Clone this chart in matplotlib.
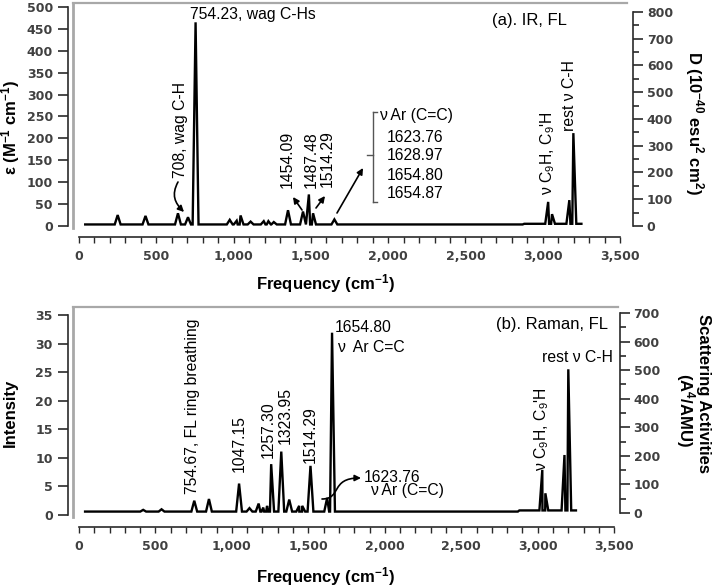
import numpy as np
import matplotlib
matplotlib.use("Agg")
import matplotlib.pyplot as plt
from matplotlib.patches import FancyArrowPatch
from matplotlib.path import Path
from matplotlib.lines import Line2D
from matplotlib.ticker import MultipleLocator

plt.rcParams['font.family'] = ['Liberation Sans', 'DejaVu Sans']
plt.rcParams['mathtext.fontset'] = 'custom'
plt.rcParams['mathtext.rm'] = 'Liberation Sans'
plt.rcParams['mathtext.it'] = 'Liberation Sans:italic'
plt.rcParams['mathtext.bf'] = 'Liberation Sans:bold'

# IR spectrum (top): band positions (cm-1) and epsilon (M-1 cm-1)
ir_freq = [250, 430, 640, 705, 754, 975, 1020, 1045, 1110, 1195, 1225, 1260,
           1352, 1449, 1487, 1514, 1652, 3035, 3060, 3172, 3198]
ir_eps = [25, 23, 29, 20, 465, 14, 12, 24, 10, 11, 11, 9,
          36, 33, 72, 29, 15, 55, 27, 59, 212]
ir_base = [3.5, 5.0]          # baseline below / above ~2875 cm-1

# Raman spectrum (bottom): band positions (cm-1) and intensity
raman_freq = [420, 540, 754, 850, 1047, 1115, 1175, 1205, 1230, 1257, 1323,
              1375, 1440, 1460, 1514, 1623, 1655, 3030, 3050, 3175, 3200]
raman_int = [0.9, 1.0, 2.5, 2.8, 5.5, 1.2, 2.0, 1.3, 1.6, 8.9, 11.1,
             2.7, 1.6, 1.6, 8.6, 3.0, 31.9, 7.9, 3.8, 10.5, 25.5]
raman_base = [0.6, 0.8]

x_ticks = np.arange(0, 3501, 500)
ir_left_ticks = np.arange(0, 501, 50)
ir_right_ticks = np.arange(0, 801, 100)
ra_left_ticks = np.arange(0, 36, 5)
ra_right_ticks = np.arange(0, 701, 100)

W, H = 714, 587
fig = plt.figure(figsize=(W / 100, H / 100), dpi=100)


def P(x, y):
    # position in the 714x587 picture -> figure fraction
    return (x / W, 1 - y / H)


def spectrum(freq, height, base, w=19, start=40, end=3250, step=2875):
    pts = [(start, base[0]), (step - 5, base[0]), (step + 5, base[1]), (end, base[1])]
    for f, h in zip(freq, height):
        b = base[0] if f < step else base[1]
        pts += [(f - w, b), (f, h), (f + w, b)]
    pts.sort()
    return [p[0] for p in pts], [p[1] for p in pts]


TICK_FONT = dict(family='DejaVu Sans', fontweight='bold', fontsize=9, color='#404040')
SPINE = '#2a2a2a'
FRAME = '#a8a8a8'


def setup(box, xlim, ylim, rlim, lticks, rticks, xoff, loff, roff):
    l, t, r, b = box
    ax = fig.add_axes([l / W, 1 - b / H, (r - l) / W, (b - t) / H])
    ax.set_xlim(*xlim)
    ax.set_ylim(*ylim)
    ax.patch.set_alpha(0)
    ax.spines['right'].set_visible(False)
    ax.spines['top'].set_color(FRAME)
    ax.spines['top'].set_linewidth(1.6)
    ax.add_line(Line2D([0, 0], [0, 1], transform=ax.transAxes, color=FRAME,
                       lw=2, clip_on=False))
    ax.spines['left'].set_position(('outward', loff))
    ax.spines['left'].set_bounds(lticks[0], lticks[-1])
    ax.spines['bottom'].set_position(('outward', xoff))
    ax.spines['bottom'].set_bounds(0, 3500)
    for s in ('left', 'bottom'):
        ax.spines[s].set_color(SPINE)
        ax.spines[s].set_linewidth(1.2)
    ax.set_xticks(x_ticks, labels=[f"{v:,}" for v in x_ticks], **TICK_FONT)
    ax.xaxis.set_minor_locator(MultipleLocator(100))
    ax.tick_params(axis='x', which='both', length=4.5, width=1, color=SPINE, pad=5)
    ax.set_yticks(lticks, labels=[f"{v:g}" for v in lticks], **TICK_FONT)
    ax.tick_params(axis='y', length=7, width=1.2, color=SPINE, pad=4)

    axr = ax.twinx()
    axr.set_ylim(*rlim)
    for s in ('left', 'top', 'bottom'):
        axr.spines[s].set_visible(False)
    axr.spines['right'].set_position(('outward', roff))
    axr.spines['right'].set_bounds(rticks[0], rticks[-1])
    axr.spines['right'].set_color(SPINE)
    axr.spines['right'].set_linewidth(1.2)
    axr.set_yticks(rticks, labels=[f"{v:g}" for v in rticks], **TICK_FONT)
    axr.yaxis.set_minor_locator(MultipleLocator(50))
    axr.tick_params(axis='y', which='major', length=7, width=1.2, color=SPINE, pad=3)
    axr.tick_params(axis='y', which='minor', length=4, width=1.2, color=SPINE)
    return ax, axr


ax1, ax1r = setup((73, 3, 627, 228), (-39, 3545), (-4.6, 509.1), (-7.5, 833.6),
                  ir_left_ticks, ir_right_ticks, xoff=6.5, loff=3.5, roff=4.3)
ax2, ax2r = setup((73, 307, 618, 517), (-39, 3525), (-0.35, 36.4), (-14, 721),
                  ra_left_ticks, ra_right_ticks, xoff=7.2, loff=3.5, roff=1.2)

x, y = spectrum(ir_freq, ir_eps, ir_base)
ax1.plot(x, y, color='black', lw=1.7, solid_joinstyle='miter')
x, y = spectrum(raman_freq, raman_int, raman_base)
ax2.plot(x, y, color='black', lw=1.7, solid_joinstyle='miter')

ANN = 11.3


def T(x, y, s, size=ANN, rot=0, ha='center', va='center', **kw):
    fig.text(*P(x, y), s, fontsize=size, rotation=rot, ha=ha, va=va,
             rotation_mode='anchor', **kw)


def arrow(p0, p1, ctrl=None):
    pts = [P(*p0)] + ([P(*c) for c in ctrl] if ctrl else []) + [P(*p1)]
    codes = [Path.MOVETO] + ([Path.CURVE4] * 3 if ctrl else [Path.LINETO])
    fig.patches.append(FancyArrowPatch(path=Path(pts, codes), arrowstyle='-|>',
                                       mutation_scale=9, lw=1.2, color='black',
                                       transform=fig.transFigure))


# ---- top panel annotations
T(190, 15, "754.23, wag C-Hs", ha='left')
T(180, 130, "708, wag C-H", rot=90)
arrow((178, 182), (184, 212), ctrl=[(171, 195), (175, 203)])
T(287, 159, "1454.09", rot=90)
T(311, 160, "1487.48", rot=90)
T(327, 159, "1514.29", rot=90)
arrow((302, 210), (293, 197))
arrow((316, 208), (325, 196))
arrow((337, 213), (363, 168))
for (xa, ya), (xb, yb) in [((377, 112), (373, 112)), ((373, 112), (373, 202)),
                           ((373, 202), (377, 202)), ((367, 155), (373, 155))]:
    fig.add_artist(Line2D([xa / W, xb / W], [1 - ya / H, 1 - yb / H],
                          transform=fig.transFigure, color='#555555', lw=1))
T(379, 116, "ν Ar (C=C)", ha='left')
for i, s in enumerate(["1623.76", "1628.97", "1654.80", "1654.87"]):
    T(387, 137 + 19 * i, s, ha='left')
T(529, 20, "(a). IR, FL", size=12)
T(548, 153, "ν C$_9$H, C$_9$'H", rot=90)
T(570, 96, "rest ν C-H", rot=90)

T(11, 127, r"ε (M$^{\mathbf{-1}}$ cm$^{\mathbf{-1}}$)", size=12, rot=90, fontweight='bold')
T(694, 123, r"D (10$^{\mathbf{-40}}$ esu$^{\mathbf{2}}$ cm$^{\mathbf{2}}$)", size=12,
  rot=270, fontweight='bold')
T(325, 284, r"Frequency (cm$^{\mathbf{-1}}$)", size=12, fontweight='bold')

# ---- bottom panel annotations
T(193, 406, "754.67, FL ring breathing", rot=90)
T(239, 444, "1047.15", rot=90)
T(268, 430, "1257.30", rot=90)
T(285, 415, "1323.95", rot=90)
T(310, 435, "1514.29", rot=90)
T(335, 328, "1654.80", ha='left')
T(337, 348, "ν  Ar C=C", ha='left')
arrow((322, 499), (361, 478), ctrl=[(342, 499), (330, 478)])
T(364, 477, "1623.76", ha='left')
T(370, 491, "ν Ar (C=C)", ha='left')
T(552, 325, "(b). Raman, FL", size=12)
T(577, 358, "rest ν C-H")
T(542, 429, "ν C$_9$H, C$_9$'H", rot=90)

T(10, 413, "Intensity", size=12, rot=90, fontweight='bold')
T(704, 393, "Scattering Activities", size=12, rot=270, fontweight='bold')
T(685, 410, r"(A$^{\mathbf{4}}$/AMU)", size=12, rot=270, fontweight='bold')
T(325, 577, r"Frequency (cm$^{\mathbf{-1}}$)", size=12, fontweight='bold')

fig.savefig("out.png", dpi=100)
